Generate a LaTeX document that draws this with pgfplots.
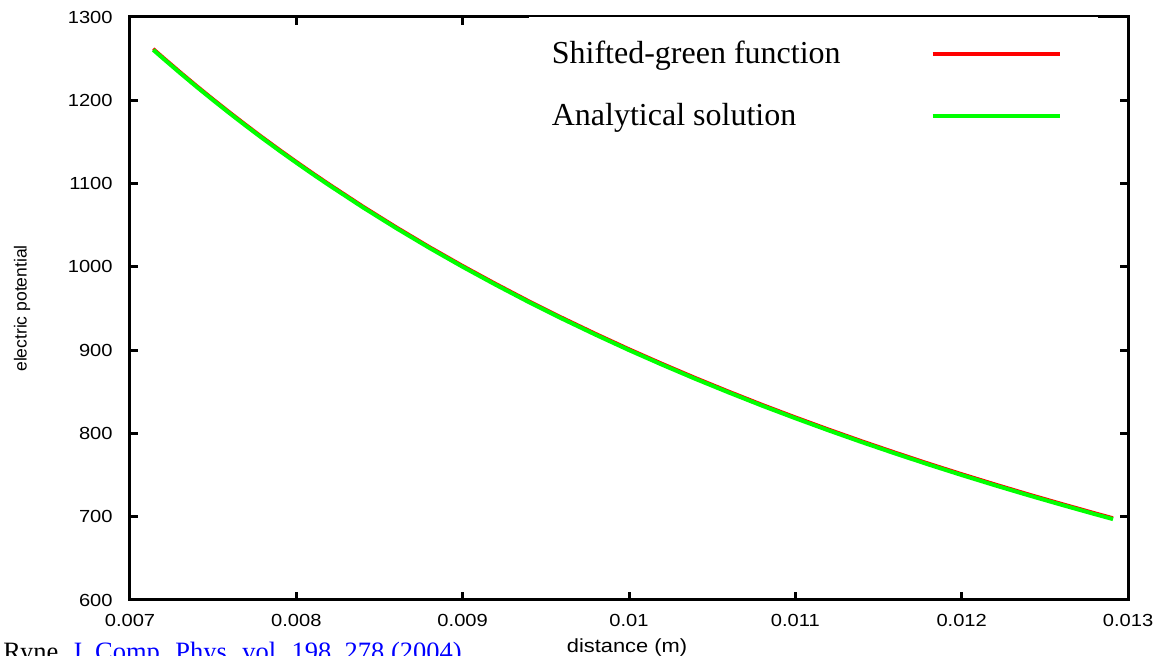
\documentclass[border=0pt]{standalone}
\usepackage{fontspec}
\setmainfont{Liberation Serif}
\newfontfamily\gpfont[FakeStretch=1.15]{Liberation Sans}
\newfontfamily\gpplain{Liberation Sans}
\usepackage{pgfplots}
\pgfplotsset{compat=1.18}
\definecolor{gpred}{RGB}{255,0,0}
\definecolor{gpgreen}{RGB}{0,255,0}
\definecolor{linkblue}{RGB}{0,0,255}

\begin{document}
\begin{tikzpicture}
\begin{axis}[
  at={(0,0)}, anchor=south west,
  scale only axis, width=499pt, height=291.5pt,
  xmin=0.007, xmax=0.013, ymin=600, ymax=1300,
  axis line style={line width=1.5pt},
  every tick/.style={black, line width=1.5pt},
  major tick length=4pt,
  tick align=inside,
  xtick={0.007,0.008,0.009,0.01,0.011,0.012,0.013},
  xticklabels={0.007,0.008,0.009,0.01,0.011,0.012,0.013},
  ytick={600,700,800,900,1000,1100,1200,1300},
  yticklabels={600,700,800,900,1000,1100,1200,1300},
  scaled x ticks=false,
  ticklabel style={font=\gpfont\fontsize{8.75pt}{10pt}\selectfont, inner sep=0pt},
  xticklabel style={anchor=north, yshift=-7pt},
  yticklabel style={anchor=east, xshift=-8.5pt},
  xlabel={distance (m)},
  xlabel style={font=\gpfont\fontsize{9.5pt}{11pt}\selectfont, at={(axis description cs:0.498,0)}, anchor=center, yshift=-24pt, inner sep=0pt},
  ylabel={electric potential},
  ylabel style={font=\gpplain\fontsize{8.75pt}{10pt}\selectfont, at={(axis description cs:-0.108,0.5)}, anchor=center, inner sep=0pt},
  legend plot pos=right,
  legend image code/.code={\draw[#1, line width=2pt] (0pt,0pt) -- (63.5pt,0pt); \path (70pt,0pt);},
  legend style={at={(rel axis cs:0.970,1)}, anchor=north east, draw=none, fill=white,
    font=\fontsize{16pt}{19pt}\selectfont, inner xsep=11.5pt, inner ysep=12pt,
    row sep=18pt, column sep=45pt, cells={anchor=west}, nodes={inner sep=0pt}},
]
\addplot[gpred, line width=1.6pt] coordinates {
(0.00714,1262.0) (0.0072,1251.5) (0.0073,1234.4) (0.0074,1217.7) (0.0075,1201.5)
(0.0076,1185.7) (0.0077,1170.3) (0.0078,1155.3) (0.0079,1140.7) (0.0080,1126.5)
(0.0081,1112.6) (0.0082,1099.1) (0.0084,1072.9) (0.0086,1048.0) (0.0088,1024.2)
(0.0090,1001.5) (0.0092,979.8) (0.0094,958.9) (0.0096,939.0) (0.0098,919.9)
(0.0100,901.5) (0.0102,883.9) (0.0104,866.9) (0.0106,850.6) (0.0108,834.8)
(0.0110,819.7) (0.0112,805.1) (0.0114,791.0) (0.0116,777.4) (0.0118,764.2)
(0.0120,751.5) (0.0122,739.2) (0.0124,727.3) (0.0126,715.8) (0.0128,704.6)
(0.01291,698.6)
};
\addlegendentry{Shifted-green function}
\addplot[gpgreen, line width=2pt] coordinates {
(0.00714,1260.5) (0.0072,1250.0) (0.0073,1232.9) (0.0074,1216.2) (0.0075,1200.0)
(0.0076,1184.2) (0.0077,1168.8) (0.0078,1153.8) (0.0079,1139.2) (0.0080,1125.0)
(0.0081,1111.1) (0.0082,1097.6) (0.0084,1071.4) (0.0086,1046.5) (0.0088,1022.7)
(0.0090,1000.0) (0.0092,978.3) (0.0094,957.4) (0.0096,937.5) (0.0098,918.4)
(0.0100,900.0) (0.0102,882.4) (0.0104,865.4) (0.0106,849.1) (0.0108,833.3)
(0.0110,818.2) (0.0112,803.6) (0.0114,789.5) (0.0116,775.9) (0.0118,762.7)
(0.0120,750.0) (0.0122,737.7) (0.0124,725.8) (0.0126,714.3) (0.0128,703.1)
(0.01291,697.1)
};
\addlegendentry{Analytical solution}
\end{axis}
\node[anchor=base west, inner sep=0pt, font=\fontsize{13.25pt}{15pt}\selectfont] at (-63.5pt,-30.25pt)
  {Ryne, \textcolor{linkblue}{J. Comp. Phys. vol. 198, 278 (2004)}};
\pgfresetboundingbox
\useasboundingbox (-65pt,-28pt) rectangle (514.5pt,300pt);
\end{tikzpicture}
\end{document}
